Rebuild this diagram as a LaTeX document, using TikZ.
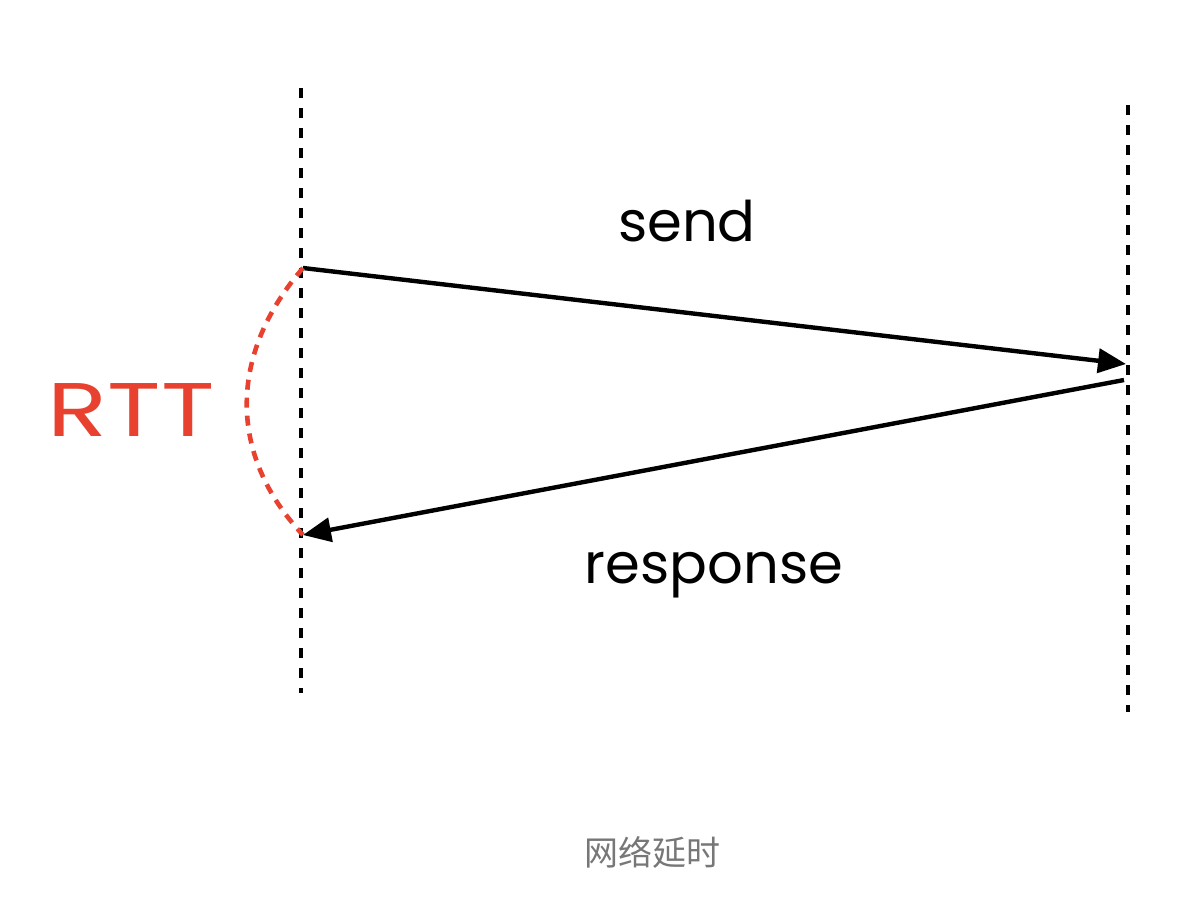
\documentclass[tikz,border=0pt]{standalone}
\usepackage{fontspec}
\setmainfont{Poppins}
\newfontfamily\cjk{Noto Sans CJK SC}
\usetikzlibrary{arrows.meta}
\definecolor{rttred}{HTML}{E8412F}
\definecolor{capgray}{HTML}{777777}
\begin{document}
\begin{tikzpicture}[x=0.5pt,y=-0.5pt,>={Triangle[length=14pt,width=12pt]},
	lifeline/.style={draw=black,line width=2.3pt,dash pattern=on 5pt off 5pt},
	msg/.style={draw=black,line width=2.2pt,->},
	rtt/.style={draw=rttred,line width=2.3pt,dash pattern=on 5pt off 4pt}]
	\useasboundingbox (0,0) rectangle (1188,906);
	
	% lifelines
	\coordinate (ctop) at (301,88);
	\coordinate (cbot) at (301,693);
	\coordinate (stop) at (1128,105);
	\coordinate (sbot) at (1128,712);
	\draw[lifeline] (ctop) -- (cbot);
	\draw[lifeline] (stop) -- (sbot);
	
	% messages
	\coordinate (sendout) at (303,268);
	\coordinate (sendin) at (1126,364);
	\coordinate (respout) at (1124,380);
	\coordinate (respin) at (303,535);
	\draw[msg] (sendout) -- (sendin);
	\draw[msg] (respout) -- (respin);
	\node[font=\fontsize{28}{30}\selectfont] (send) at (687,221) {send};
	\node[font=\fontsize{28}{30}\selectfont] (response) at (714,575) {response};
	
	% RTT
	\draw[rtt] (sendout) .. controls (228,355) and (228,455) .. (respin);
	\node[text=rttred,xscale=1.3,font=\fontsize{38}{40}\selectfont] (rtt) at (131,410) {RTT};
	
	% caption
	\node[text=capgray,font=\cjk\fontsize{17}{19}\selectfont] (caption) at (652,852) {网络延时};
\end{tikzpicture}
\end{document}
